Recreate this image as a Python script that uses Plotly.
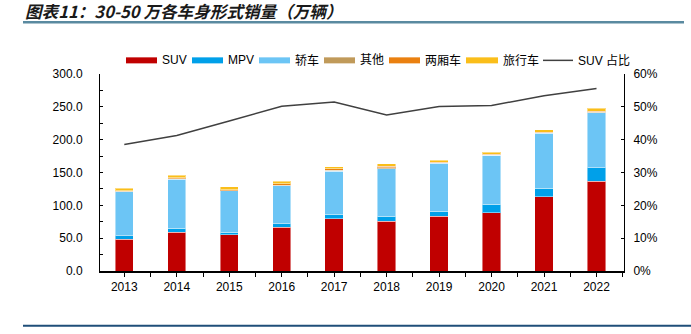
import plotly.graph_objects as go

years = [2013, 2014, 2015, 2016, 2017, 2018, 2019, 2020, 2021, 2022]
suv = [48, 59, 55.5, 66.5, 79.5, 76, 83.5, 88.5, 113, 137]
mpv = [6, 6, 3.5, 5.5, 7, 7.5, 7.5, 13.5, 13, 20]
sedan = [67, 75, 63, 58, 65.5, 72.5, 73, 74, 84, 84]
other = [0.5, 0.5, 0.5, 0.5, 1.5, 1.0, 0.5, 0.5, 0.5, 0.5]
hatch = [1.0, 1.5, 1.5, 2.0, 2.5, 2.5, 1.0, 1.0, 1.0, 1.5]
wagon = [3.5, 4.0, 4.0, 4.5, 3.0, 3.5, 3.5, 3.5, 3.5, 4.5]
suv_share = [0.385, 0.413, 0.457, 0.502, 0.515, 0.475, 0.501, 0.504, 0.534, 0.556]

series_names = ["SUV", "MPV", "轿车", "其他", "两厢车", "旅行车"]
series_vals = [suv, mpv, sedan, other, hatch, wagon]
colors = ["#c00000", "#00a0e9", "#6cc5f5", "#c09a5a", "#ea8010", "#fabe1a"]
line_name = "SUV 占比"
line_color = "#404040"

W, H = 691, 334
L, R, T, B = 100, 624, 74.3, 270.7
FONT = "Liberation Sans, Arial, Noto Sans CJK SC, sans-serif"

fig = go.Figure()
for name, vals, c in zip(series_names, series_vals, colors):
    fig.add_trace(go.Bar(x=years, y=vals, name=name, marker_color=c,
                         marker_line=dict(color="rgba(255,255,255,0.45)", width=1),
                         width=0.35, showlegend=False))
fig.add_trace(go.Scatter(x=years, y=suv_share, name=line_name, yaxis="y2", mode="lines",
                         line=dict(color=line_color, width=1.5), showlegend=False))

def px2x(px):
    return (px - L) / (R - L)

def py2y(py):
    return (B - py) / (B - T)

shapes = []
annotations = []
# legend
leg_y = 60.7
leg_items = [(126, 157, 160), (192, 223, 226), (259, 290, 293), (324, 355, 358),
             (389, 420, 423), (466, 498, 501)]
for (x0, x1, tx), name, c in zip(leg_items, series_names, colors):
    shapes.append(dict(type="rect", xref="paper", yref="paper", x0=px2x(x0), x1=px2x(x1),
                       y0=py2y(leg_y + 3), y1=py2y(leg_y - 3), fillcolor=c, line_width=0))
    annotations.append(dict(text=name, xref="paper", yref="paper", x=px2x(tx), y=py2y(leg_y),
                            xanchor="left", yanchor="middle", showarrow=False,
                            font=dict(size=12, color="#000", family=FONT)))
shapes.append(dict(type="line", xref="paper", yref="paper", x0=px2x(543), x1=px2x(573),
                   y0=py2y(leg_y), y1=py2y(leg_y), line=dict(color=line_color, width=1.5)))
annotations.append(dict(text=line_name, xref="paper", yref="paper", x=px2x(576), y=py2y(leg_y),
                        xanchor="left", yanchor="middle", showarrow=False,
                        font=dict(size=12, color="#000", family=FONT)))
# title
annotations.append(dict(text="<b><i>图表11：30-50 万各车身形式销量（万辆）</i></b>", xref="paper", yref="paper",
                        x=px2x(23), y=py2y(11), xanchor="left", yanchor="middle", showarrow=False,
                        font=dict(size=16.6, color="#1a1a1a", family="Noto Sans CJK SC, sans-serif")))
shapes.append(dict(type="line", xref="paper", yref="paper", x0=px2x(23), x1=px2x(684),
                   y0=py2y(22.7), y1=py2y(22.7), line=dict(color="#5a8aa0", width=2.5)))
shapes.append(dict(type="line", xref="paper", yref="paper", x0=px2x(23), x1=px2x(691),
                   y0=py2y(325.3), y1=py2y(325.3), line=dict(color="#1f4e79", width=2)))

fig.update_layout(
    width=W, height=H, barmode="stack",
    margin=dict(l=L, r=W - R, t=T, b=H - B, pad=0),
    paper_bgcolor="white", plot_bgcolor="white",
    font=dict(family=FONT, size=12, color="#000"),
    shapes=shapes, annotations=annotations,
    xaxis=dict(range=[2012.537, 2022.524], tickmode="array", tickvals=years,
               ticktext=[str(y) for y in years], ticks="outside", ticklen=4, tickcolor="#000",
               showline=True, linecolor="#000", linewidth=1.5, showgrid=False, zeroline=False,
               minor=dict(tickmode="linear", tick0=2012.5, dtick=1, ticks="outside", ticklen=4,
                          tickcolor="#000", showgrid=False),
               tickfont=dict(size=12)),
    yaxis=dict(range=[0, 300], dtick=50, tickformat=".1f", ticks="inside", ticklen=3,
               tickcolor="#000", showline=True, linecolor="#000", linewidth=1, showgrid=False,
               zeroline=False, minor=dict(dtick=25, ticks="inside", ticklen=3, tickcolor="#000",
                                          showgrid=False),
               ticklabelstandoff=14, tickfont=dict(size=12)),
    yaxis2=dict(range=[0, 0.6], dtick=0.1, tickformat=".0%", overlaying="y", side="right",
                ticks="inside", ticklen=3, tickcolor="#000", showline=True, linecolor="#000",
                linewidth=1, showgrid=False, zeroline=False, ticklabelstandoff=6,
                tickfont=dict(size=12)),
)

fig.write_html("out.html")
